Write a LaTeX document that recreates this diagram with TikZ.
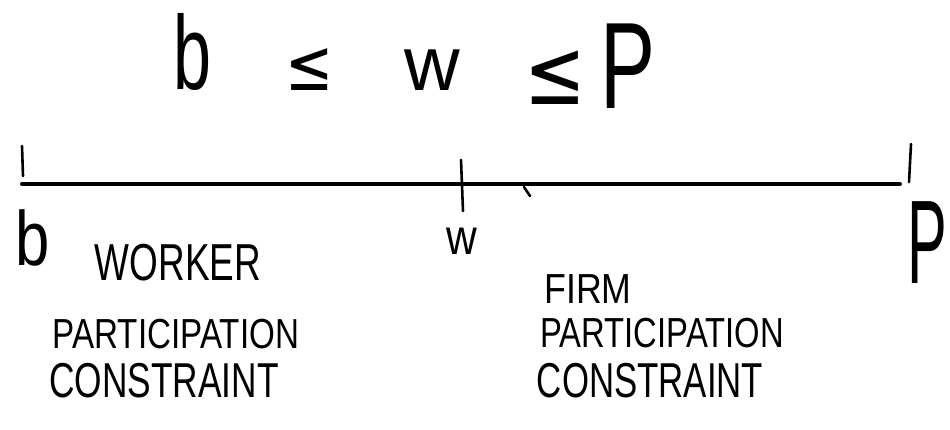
\documentclass[tikz,border=0pt]{standalone}
\usepackage{fontspec}
\setmainfont{Liberation Sans}
\newfontfamily\symfont{DejaVu Sans}
\newcommand{\hw}[3]{\scalebox{#1}[1]{\fontsize{#2}{#2}\selectfont #3}}
\begin{document}
\begin{tikzpicture}[x=1pt,y=-1pt,
  glyph/.style={inner sep=0pt,outer sep=0pt,anchor=center},
  axisline/.style={line width=4pt,line cap=round},
  tickline/.style={line width=2.6pt,line cap=round}]
\useasboundingbox[fill=white] (0,0) rectangle (950,429);
% top formula
\node[glyph] (tb) at (192,52) {\hw{0.65}{105}{b}};
\node[glyph] (tle1) at (310,70) {\hw{0.8}{72}{\symfont ≤}};
\node[glyph] (tw) at (432,70) {\hw{1}{77}{w}};
\node[glyph] (tle2) at (555,78) {\hw{0.8}{92}{\symfont ≤}};
\node[glyph] (tp) at (628,66) {\hw{0.67}{123}{P}};
% axis
\coordinate (L) at (22,184);
\coordinate (R) at (900,184);
\draw[axisline] (L) -- (R);
\coordinate (lt1) at (22,146); \coordinate (lt2) at (23,176);
\draw[tickline] (lt1) -- (lt2);
\coordinate (rt1) at (911,144); \coordinate (rt2) at (909,182);
\draw[tickline] (rt1) -- (rt2);
\coordinate (mt1) at (461,160); \coordinate (mt2) at (463,211);
\draw[tickline] (mt1) -- (mt2);
\coordinate (sm1) at (524,187); \coordinate (sm2) at (530,196);
\draw[tickline] (sm1) -- (sm2);
% axis labels
\node[glyph] (bb) at (33,238) {\hw{0.8}{77}{b}};
\node[glyph] (bw) at (462,241) {\hw{0.85}{50}{w}};
\node[glyph] (bp) at (927,243) {\hw{0.5}{119}{P}};
% worker
\node[glyph] (wk) at (178,263) {\hw{0.71}{52}{WORKER}};
\node[glyph] (wp) at (176,334) {\hw{0.79}{42}{PARTICIPATION}};
\node[glyph] (wc) at (164,381) {\hw{0.72}{49}{CONSTRAINT}};
% firm
\node[glyph] (fm) at (588,289) {\hw{0.85}{42}{FIRM}};
\node[glyph] (fp) at (662,333) {\hw{0.78}{42}{PARTICIPATION}};
\node[glyph] (fc) at (650,381) {\hw{0.71}{49}{CONSTRAINT}};
\end{tikzpicture}
\end{document}
